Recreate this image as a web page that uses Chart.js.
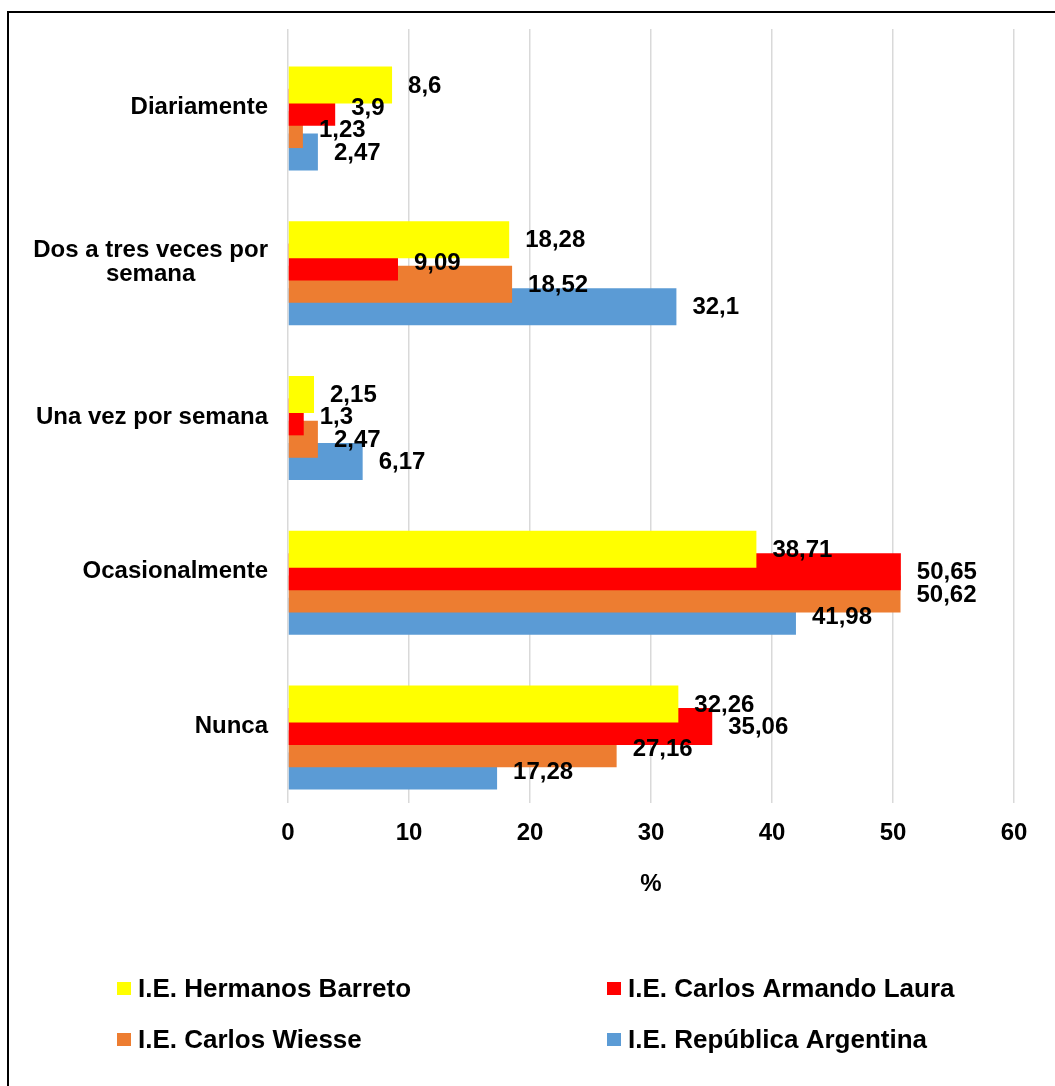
<!DOCTYPE html>
<html>
<head>
<meta charset="utf-8">
<script src="https://cdn.jsdelivr.net/npm/chart.js@4/dist/chart.umd.min.js"></script>
<style>
  html, body { margin: 0; padding: 0; background: #fff; overflow: hidden; }
  #frame { position: absolute; left: 7px; top: 11px; width: 1100px; height: 1100px; border: 2px solid #000; }
  #chart { position: absolute; left: 0; top: 0; }
</style>
</head>
<body>
<div id="frame"></div>
<canvas id="chart" width="1055" height="1086"></canvas>
<script>
const categories = ['Diariamente', ['Dos a tres veces por', 'semana'], 'Una vez por semana', 'Ocasionalmente', 'Nunca'];
const seriesNames = ['I.E. Hermanos Barreto', 'I.E. Carlos Armando Laura', 'I.E. Carlos Wiesse', 'I.E. República Argentina'];
const barreto = [8.6, 18.28, 2.15, 38.71, 32.26];
const laura = [3.9, 9.09, 1.3, 50.65, 35.06];
const wiesse = [1.23, 18.52, 2.47, 50.62, 27.16];
const argentina = [2.47, 32.1, 6.17, 41.98, 17.28];
const xTicks = [0, 10, 20, 30, 40, 50, 60];
const colors = ['#FFFF00', '#FF0000', '#ED7D31', '#5B9BD5'];

const FONT = "'Liberation Sans', Arial, sans-serif";
Chart.defaults.font.family = FONT;
Chart.defaults.color = '#000';

// bars sit a bit below the category centre, like the Excel original
const shift = 12 / 154.8;

const fmt = v => String(v).replace('.', ',');

const datasets = [barreto, laura, wiesse, argentina].map((vals, i) => ({
  label: seriesNames[i],
  data: vals.map((v, j) => ({ x: v, y: j })),
  backgroundColor: colors[i],
  borderWidth: 0,
  xAxisID: 'x',
  yAxisID: 'yb',
  categoryPercentage: 0.577,
  barPercentage: 1.657
}));

const valueLabels = {
  id: 'valueLabels',
  afterDatasetsDraw(chart) {
    const ctx = chart.ctx;
    ctx.save();
    ctx.font = 'bold 24px ' + FONT;
    ctx.fillStyle = '#000';
    ctx.textAlign = 'left';
    ctx.textBaseline = 'middle';
    chart.data.datasets.forEach((ds, i) => {
      chart.getDatasetMeta(i).data.forEach((bar, j) => {
        ctx.fillText(fmt(ds.data[j].x), bar.x + 16, bar.y + 1);
      });
    });
    ctx.restore();
  }
};

const categoryLabels = {
  id: 'categoryLabels',
  afterDraw(chart) {
    const ctx = chart.ctx;
    const sc = chart.scales.y;
    ctx.save();
    ctx.font = 'bold 24px ' + FONT;
    ctx.fillStyle = '#000';
    ctx.textAlign = 'center';
    ctx.textBaseline = 'middle';
    categories.forEach((cat, i) => {
      const lines = [].concat(cat);
      const w = Math.max(...lines.map(l => ctx.measureText(l).width));
      const cx = chart.chartArea.left - 20 - w / 2;
      const y0 = sc.getPixelForTick(i) - (lines.length - 1) * 24 / 2;
      lines.forEach((l, k) => ctx.fillText(l, cx, y0 + k * 24 + 1));
    });
    ctx.restore();
  }
};

const legendBoxes = {
  id: 'legendBoxes',
  afterDraw(chart) {
    const ctx = chart.ctx;
    const cols = [117, 607];
    const rows = [988.5, 1039.5];
    ctx.save();
    ctx.font = 'bold 26px ' + FONT;
    ctx.textAlign = 'left';
    ctx.textBaseline = 'middle';
    chart.data.datasets.forEach((ds, i) => {
      const x = cols[i % 2];
      const y = rows[Math.floor(i / 2)];
      ctx.fillStyle = ds.backgroundColor;
      ctx.fillRect(x, y - 6.5, 14, 13);
      ctx.fillStyle = '#000';
      ctx.fillText(ds.label, x + 21, y + 1);
    });
    ctx.restore();
  }
};

new Chart(document.getElementById('chart'), {
  type: 'bar',
  data: { labels: categories, datasets: datasets },
  options: {
    indexAxis: 'y',
    responsive: false,
    animation: false,
    layout: { padding: { left: 288, top: 29, right: 41, bottom: 183 } },
    plugins: { legend: { display: false }, tooltip: { enabled: false } },
    scales: {
      x: {
        min: 0,
        max: 60,
        afterBuildTicks: s => { s.ticks = xTicks.map(v => ({ value: v })); },
        ticks: { padding: 16, color: '#000', font: { size: 24, weight: 'bold' } },
        grid: { color: '#d9d9d9', lineWidth: 1.5, drawTicks: false },
        border: { display: false },
        title: { display: true, text: '%', color: '#000', font: { size: 24, weight: 'bold' }, padding: { top: 0, bottom: 4 } },
        afterFit: s => { s.height = 100; }
      },
      y: {
        type: 'category',
        offset: true,
        display: false
      },
      yb: {
        type: 'linear',
        axis: 'y',
        display: false,
        offset: false,
        reverse: true,
        min: -0.5 - shift,
        max: categories.length - 0.5 - shift,
        afterBuildTicks: s => { s.ticks = categories.map((c, i) => ({ value: i })); }
      }
    }
  },
  plugins: [valueLabels, categoryLabels, legendBoxes]
});
</script>
</body>
</html>
